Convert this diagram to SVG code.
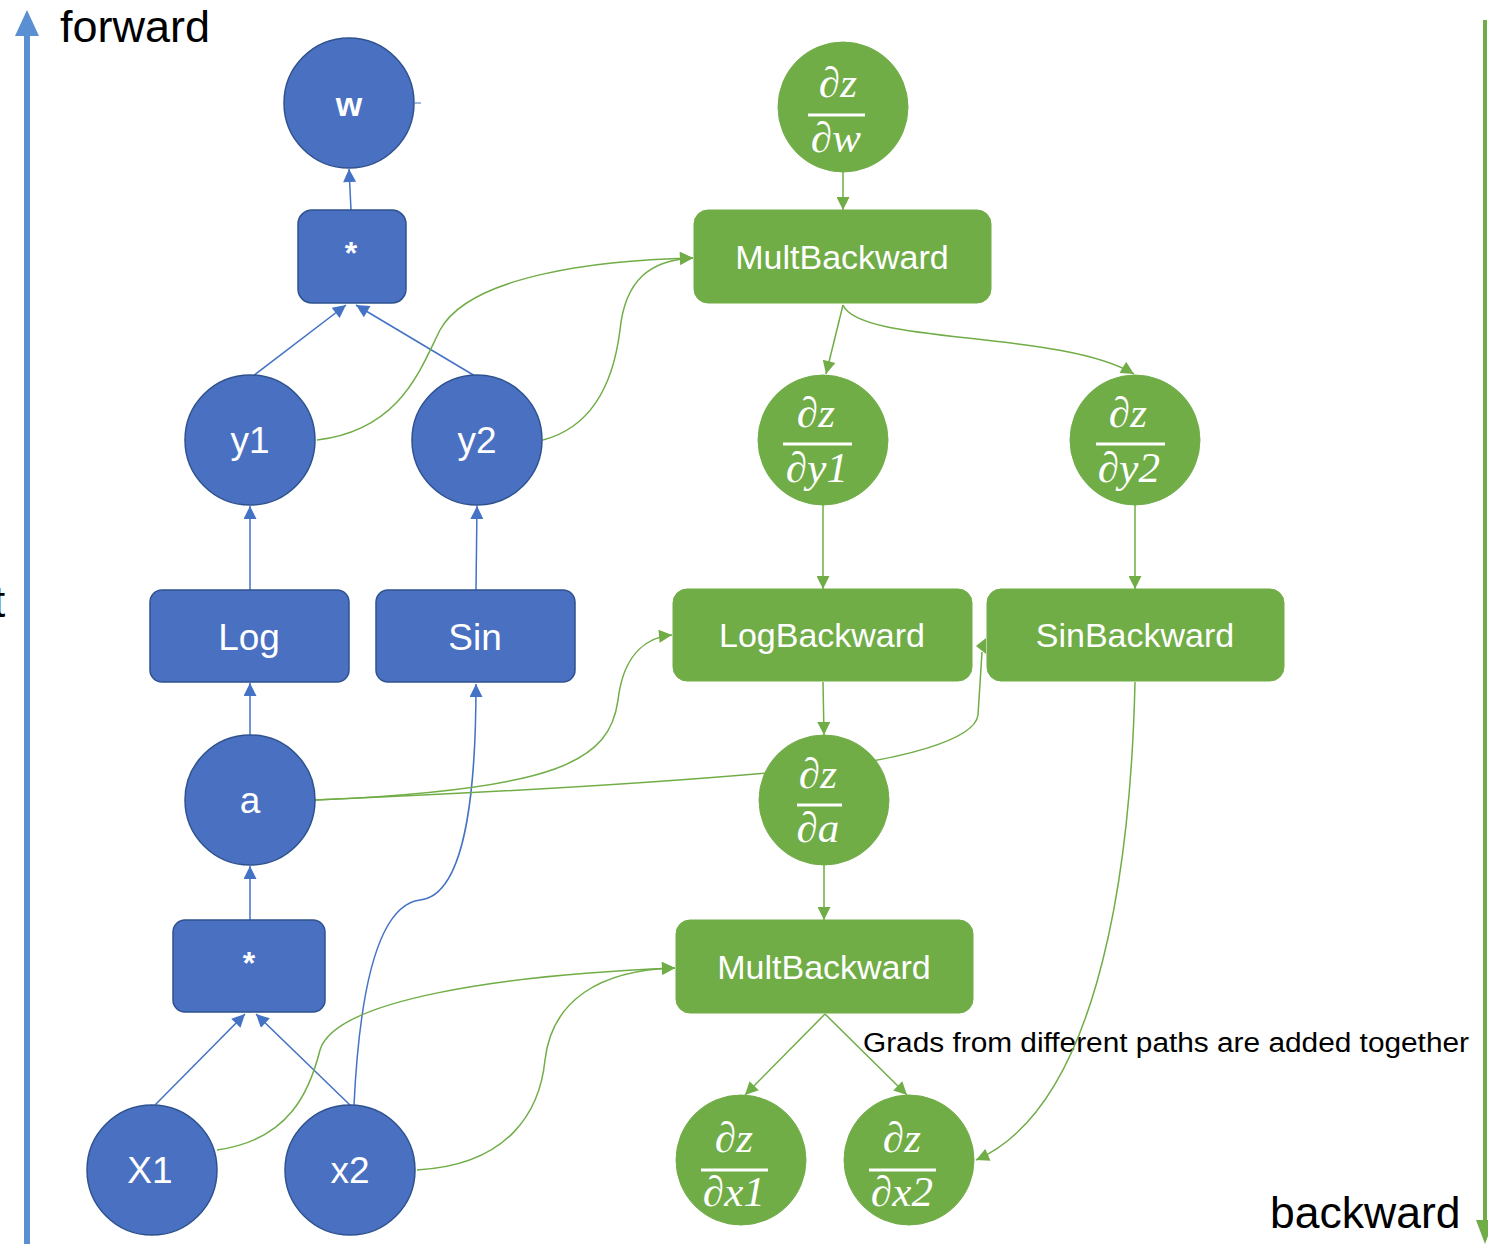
<svg xmlns="http://www.w3.org/2000/svg" width="1488" height="1244" viewBox="0 0 1488 1244">
<style>
.bn{fill:#4A70C2;stroke:#2F528F;stroke-width:1.5}
.gn{fill:#70AD47;stroke:#70AD47;stroke-width:1}
.lbl{font-family:"Liberation Sans",Arial,sans-serif;fill:#fff;text-anchor:middle}
.bold{font-weight:bold}
.math{font-family:"Liberation Serif","DejaVu Serif",serif;font-style:italic;fill:#fff;text-anchor:middle;font-size:43px}
.bar{stroke:#fff;stroke-width:3}
.bc{fill:none;stroke:#4472C4;stroke-width:1.5}
.gc{fill:none;stroke:#70AD47;stroke-width:1.5}
.big{font-family:"Liberation Sans",Arial,sans-serif;fill:#000}
</style>
<defs>
<marker id="ab" viewBox="0 0 10 10" refX="10" refY="5" markerWidth="15" markerHeight="13" markerUnits="userSpaceOnUse" orient="auto"><path d="M0,0L10,5L0,10z" fill="#4472C4"/></marker>
<marker id="ag" viewBox="0 0 10 10" refX="10" refY="5" markerWidth="15" markerHeight="13" markerUnits="userSpaceOnUse" orient="auto"><path d="M0,0L10,5L0,10z" fill="#70AD47"/></marker>
</defs>
<rect width="1488" height="1244" fill="#fff"/>

<g id="axes">
<line x1="27" y1="1244" x2="27" y2="32" stroke="#5B8FD3" stroke-width="6"/>
<polygon points="15,36 27,10 39,36" fill="#5B8FD3"/>
<text class="big" x="60" y="42" font-size="45">forward</text>
<line x1="1485" y1="20" x2="1485" y2="1222" stroke="#70AD47" stroke-width="4"/>
<polygon points="1476,1220 1485,1244 1494,1220" fill="#70AD47"/>
<text class="big" x="1270" y="1228" font-size="44.5">backward</text>
<text class="big" x="-7" y="617" font-size="44">t</text>
<text class="big" x="863" y="1052" font-size="27" textLength="606" lengthAdjust="spacingAndGlyphs">Grads from different paths are added together</text>
</g>

<g id="connectors">
<line class="bc" x1="351" y1="210" x2="349" y2="169" marker-end="url(#ab)"/>
<line x1="415" y1="103" x2="421" y2="103" stroke="#4472C4" stroke-width="1"/>
<line class="bc" x1="253" y1="376" x2="346" y2="305" marker-end="url(#ab)"/>
<line class="bc" x1="475" y1="376" x2="356" y2="305" marker-end="url(#ab)"/>
<line class="bc" x1="250" y1="590" x2="250" y2="506" marker-end="url(#ab)"/>
<line class="bc" x1="476" y1="590" x2="477" y2="506" marker-end="url(#ab)"/>
<line class="bc" x1="250" y1="735" x2="250" y2="683" marker-end="url(#ab)"/>
<line class="bc" x1="250" y1="920" x2="250" y2="866" marker-end="url(#ab)"/>
<line class="bc" x1="155" y1="1105" x2="245" y2="1014" marker-end="url(#ab)"/>
<line class="bc" x1="350" y1="1105" x2="256" y2="1014" marker-end="url(#ab)"/>
<path class="bc" d="M354,1105 C360,980 380,905 420,900 C470,895 476,770 476,684" marker-end="url(#ab)"/>
<line class="gc" x1="843" y1="172" x2="843" y2="210" marker-end="url(#ag)"/>
<line class="gc" x1="843" y1="305" x2="826" y2="374" marker-end="url(#ag)"/>
<path class="gc" d="M843,305 C860,345 1060,330 1134,374" marker-end="url(#ag)"/>
<line class="gc" x1="823" y1="505" x2="823" y2="589" marker-end="url(#ag)"/>
<line class="gc" x1="1135" y1="505" x2="1135" y2="589" marker-end="url(#ag)"/>
<line class="gc" x1="823" y1="682" x2="824" y2="735" marker-end="url(#ag)"/>
<line class="gc" x1="824" y1="865" x2="824" y2="920" marker-end="url(#ag)"/>
<line class="gc" x1="825" y1="1014" x2="745" y2="1095" marker-end="url(#ag)"/>
<line class="gc" x1="825" y1="1014" x2="907" y2="1095" marker-end="url(#ag)"/>
<path class="gc" d="M1135,682 C1130,900 1090,1110 976,1160" marker-end="url(#ag)"/>
<path class="gc" d="M317,440 C400,430 420,370 440,330 C470,275 600,260 693,258" marker-end="url(#ag)"/>
<path class="gc" d="M543,440 C600,425 615,370 620,330 C625,280 650,260 693,258" marker-end="url(#ag)"/>
<path class="gc" d="M315,800 C560,790 610,760 618,700 C624,650 650,637 672,635" marker-end="url(#ag)"/>
<path class="gc" d="M315,800 C550,790 700,780 820,768 C900,760 975,740 978,715 L982,652"/>
<polygon points="976,646 986,638 986,654" fill="#70AD47"/>
<path class="gc" d="M217,1150 C290,1140 310,1090 320,1050 C335,1000 500,975 675,968" marker-end="url(#ag)"/>
<path class="gc" d="M417,1170 C510,1165 540,1110 545,1060 C552,1000 600,970 675,968" marker-end="url(#ag)"/>
</g>

<g id="n-w"><circle class="bn" cx="349" cy="103" r="65"/><text class="lbl bold" x="349" y="116" font-size="34">w</text></g>
<g id="n-mul1"><rect class="bn" x="298" y="210" width="108" height="93" rx="14"/><text class="lbl bold" x="351" y="264" font-size="32">*</text></g>
<g id="n-y1"><circle class="bn" cx="250" cy="440" r="65"/><text class="lbl" x="250" y="453" font-size="37">y1</text></g>
<g id="n-y2"><circle class="bn" cx="477" cy="440" r="65"/><text class="lbl" x="477" y="453" font-size="37">y2</text></g>
<g id="n-log"><rect class="bn" x="150" y="590" width="199" height="92" rx="12"/><text class="lbl" x="249" y="650" font-size="37">Log</text></g>
<g id="n-sin"><rect class="bn" x="376" y="590" width="199" height="92" rx="12"/><text class="lbl" x="475" y="650" font-size="37">Sin</text></g>
<g id="n-a"><circle class="bn" cx="250" cy="800" r="65"/><text class="lbl" x="250" y="813" font-size="37">a</text></g>
<g id="n-mul2"><rect class="bn" x="173" y="920" width="152" height="92" rx="12"/><text class="lbl bold" x="249" y="974" font-size="32">*</text></g>
<g id="n-x1"><circle class="bn" cx="152" cy="1170" r="65"/><text class="lbl" x="150" y="1183" font-size="37">X1</text></g>
<g id="n-x2"><circle class="bn" cx="350" cy="1170" r="65"/><text class="lbl" x="350" y="1183" font-size="37">x2</text></g>

<g id="g-dw"><circle class="gn" cx="843" cy="107" r="65"/><text class="math" x="838" y="97">∂z</text><line class="bar" x1="808" y1="115" x2="865" y2="115"/><text class="math" x="836" y="152">∂w</text></g>
<g id="g-mb1"><rect class="gn" x="694" y="210" width="297" height="93" rx="14"/><text class="lbl" x="842" y="269" font-size="34">MultBackward</text></g>
<g id="g-dy1"><circle class="gn" cx="823" cy="440" r="65"/><text class="math" x="816" y="427">∂z</text><line class="bar" x1="783" y1="444" x2="852" y2="444"/><text class="math" x="817" y="482">∂y1</text></g>
<g id="g-dy2"><circle class="gn" cx="1135" cy="440" r="65"/><text class="math" x="1128" y="427">∂z</text><line class="bar" x1="1096" y1="444" x2="1165" y2="444"/><text class="math" x="1129" y="482">∂y2</text></g>
<g id="g-lb"><rect class="gn" x="673" y="589" width="299" height="92" rx="14"/><text class="lbl" x="822" y="647" font-size="34">LogBackward</text></g>
<g id="g-sb"><rect class="gn" x="987" y="589" width="297" height="92" rx="14"/><text class="lbl" x="1135" y="647" font-size="34">SinBackward</text></g>
<g id="g-da"><circle class="gn" cx="824" cy="800" r="65"/><text class="math" x="818" y="788">∂z</text><line class="bar" x1="797" y1="805" x2="842" y2="805"/><text class="math" x="818" y="842">∂a</text></g>
<g id="g-mb2"><rect class="gn" x="676" y="920" width="297" height="93" rx="14"/><text class="lbl" x="824" y="979" font-size="34">MultBackward</text></g>
<g id="g-dx1"><circle class="gn" cx="741" cy="1160" r="65"/><text class="math" x="734" y="1152">∂z</text><line class="bar" x1="701" y1="1170" x2="768" y2="1170"/><text class="math" x="734" y="1206">∂x1</text></g>
<g id="g-dx2"><circle class="gn" cx="909" cy="1160" r="65"/><text class="math" x="902" y="1152">∂z</text><line class="bar" x1="869" y1="1170" x2="936" y2="1170"/><text class="math" x="902" y="1206">∂x2</text></g>
</svg>
